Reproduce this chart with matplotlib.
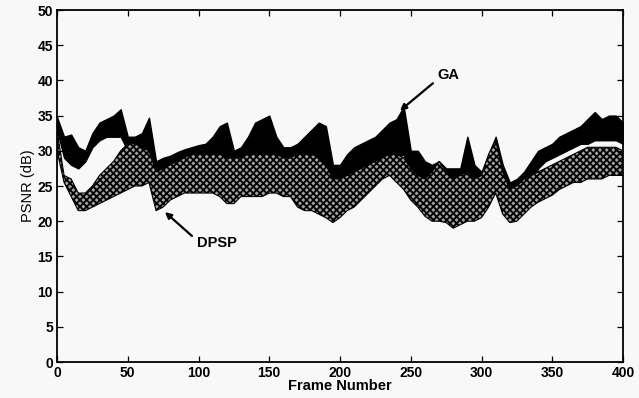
import matplotlib
matplotlib.use("Agg")
import matplotlib.pyplot as plt

frames = list(range(0, 401, 5))

ga_hi = [34.8, 32.0, 32.3, 30.5, 30.0, 32.5, 34.0, 34.5, 35.0, 35.9,
         32.0, 32.0, 32.5, 34.7, 28.5, 29.0, 29.3, 29.8, 30.2, 30.5,
         30.8, 31.0, 32.0, 33.5, 34.0, 30.0, 30.5, 32.0, 34.0, 34.5,
         35.0, 32.0, 30.5, 30.5, 31.0, 32.0, 33.0, 34.0, 33.5, 28.0,
         28.0, 29.5, 30.5, 31.0, 31.5, 32.0, 33.0, 34.0, 34.5, 36.3,
         30.0, 30.0, 28.5, 28.0, 28.5, 27.5, 27.5, 27.5, 32.0, 28.0,
         27.0, 29.5, 32.0, 28.0, 25.5, 26.0, 27.0, 28.5, 30.0, 30.5,
         31.0, 32.0, 32.5, 33.0, 33.5, 34.5, 35.5, 34.5, 35.0, 35.0,
         34.0]
ga_lo = [33.0, 29.0, 28.0, 27.5, 28.5, 30.5, 31.5, 32.0, 32.0, 32.0,
         30.0, 30.0, 29.5, 29.5, 26.0, 26.0, 26.5, 27.0, 27.0, 27.5,
         27.5, 27.5, 27.5, 27.5, 27.5, 27.0, 27.0, 27.5, 27.5, 27.5,
         27.5, 27.5, 27.5, 27.5, 27.5, 27.5, 27.5, 27.5, 27.5, 25.5,
         25.0, 25.5, 26.0, 26.5, 27.0, 27.5, 28.0, 28.5, 29.0, 29.5,
         25.5, 24.5, 23.0, 22.0, 22.0, 21.5, 21.5, 22.0, 23.0, 22.0,
         22.5, 25.0, 27.0, 23.0, 21.0, 22.0, 23.5, 25.0, 27.5, 28.5,
         29.0, 29.5, 30.0, 30.5, 31.0, 31.0, 31.5, 31.5, 31.5, 31.5,
         31.0]
dp_hi = [33.0, 26.5, 26.0, 24.0, 24.0, 25.0, 26.5, 27.5, 28.5, 30.0,
         31.0, 31.0, 30.5, 30.0, 27.0, 27.5, 28.0, 28.5, 29.0, 29.5,
         29.5, 29.5, 29.5, 29.5, 29.0, 29.0, 29.0, 29.5, 29.5, 29.5,
         29.5, 29.5, 29.0, 29.0, 29.5, 29.5, 29.5, 29.0, 28.0, 26.0,
         26.0, 26.5, 27.0, 27.5, 28.0, 28.5, 29.0, 29.5, 29.5, 29.0,
         27.5, 26.5, 26.0, 27.0, 28.5, 27.0, 26.0, 26.5, 27.0, 26.0,
         26.5, 29.5, 31.5, 27.0, 24.5, 25.0, 26.0, 26.5, 27.0, 27.5,
         28.0, 28.5, 29.0, 29.5, 30.0, 30.5, 30.5, 30.5, 30.5, 30.5,
         30.0]
dp_lo = [30.0, 25.5, 23.5, 21.5, 21.5, 22.0, 22.5, 23.0, 23.5, 24.0,
         24.5, 25.0, 25.0, 25.5, 21.5, 22.0, 23.0, 23.5, 24.0, 24.0,
         24.0, 24.0, 24.0, 23.5, 22.5, 22.5, 23.5, 23.5, 23.5, 23.5,
         24.0, 24.0, 23.5, 23.5, 22.0, 21.5, 21.5, 21.0, 20.5, 19.8,
         20.5, 21.5, 22.0, 23.0, 24.0, 25.0, 26.0, 26.5, 25.5, 24.5,
         23.0, 22.0, 20.7, 20.0, 20.0, 19.8, 19.0, 19.5, 20.0, 20.0,
         20.5, 22.0, 24.0, 21.0, 19.8, 20.0, 21.0, 22.0, 22.7, 23.2,
         23.7, 24.5, 25.0, 25.5, 25.5, 26.0, 26.0, 26.0, 26.5, 26.5,
         26.5]

x_ticks = [0, 50, 100, 150, 200, 250, 300, 350, 400]
y_ticks = [0, 5, 10, 15, 20, 25, 30, 35, 40, 45, 50]

plt.rcParams['font.family'] = ['Liberation Sans', 'DejaVu Sans']
plt.rcParams['hatch.linewidth'] = 1.3

bg = '#f8f8f8'
fig = plt.figure(figsize=(6.39, 3.98), dpi=100, facecolor=bg)
ax = fig.add_axes([57/639, 1 - 362/398, (623 - 57)/639, (362 - 10)/398])
ax.set_facecolor(bg)

ax.fill_between(frames, ga_lo, ga_hi, facecolor='black', edgecolor='black', lw=1.0)
ax.fill_between(frames, dp_lo, dp_hi, facecolor='#a0a0a0', edgecolor='black',
                hatch='xxxxx', lw=0.8)

ax.set_xlim(0, 400)
ax.set_ylim(0, 50)
ax.set_xticks(x_ticks)
ax.set_yticks(y_ticks)
ax.tick_params(direction='in', top=True, right=True, length=4, width=0.9,
               labelsize=10, pad=3)
for lab in ax.get_xticklabels() + ax.get_yticklabels():
    lab.set_fontweight('bold')
for s in ax.spines.values():
    s.set_linewidth(1.3)

ax.set_xlabel('Frame Number', fontsize=10.5, fontweight='bold', labelpad=-1)
ax.set_ylabel('PSNR (dB)', fontsize=10.5, labelpad=2)

ax.text(268.6, 40.7, 'GA', fontsize=10.5, fontweight='bold', ha='left', va='center')
ax.annotate('', xy=(242.4, 35.7), xytext=(265.7, 39.6),
            arrowprops=dict(arrowstyle='-|>', color='black', lw=1.6,
                            mutation_scale=9, shrinkA=0, shrinkB=0))
ax.text(99, 16.9, 'DPSP', fontsize=10.5, fontweight='bold', ha='left', va='center')
ax.annotate('', xy=(76.3, 21.3), xytext=(95.4, 17.9),
            arrowprops=dict(arrowstyle='-|>', color='black', lw=1.6,
                            mutation_scale=9, shrinkA=0, shrinkB=0))

fig.savefig('out.png', dpi=100, facecolor=bg)
